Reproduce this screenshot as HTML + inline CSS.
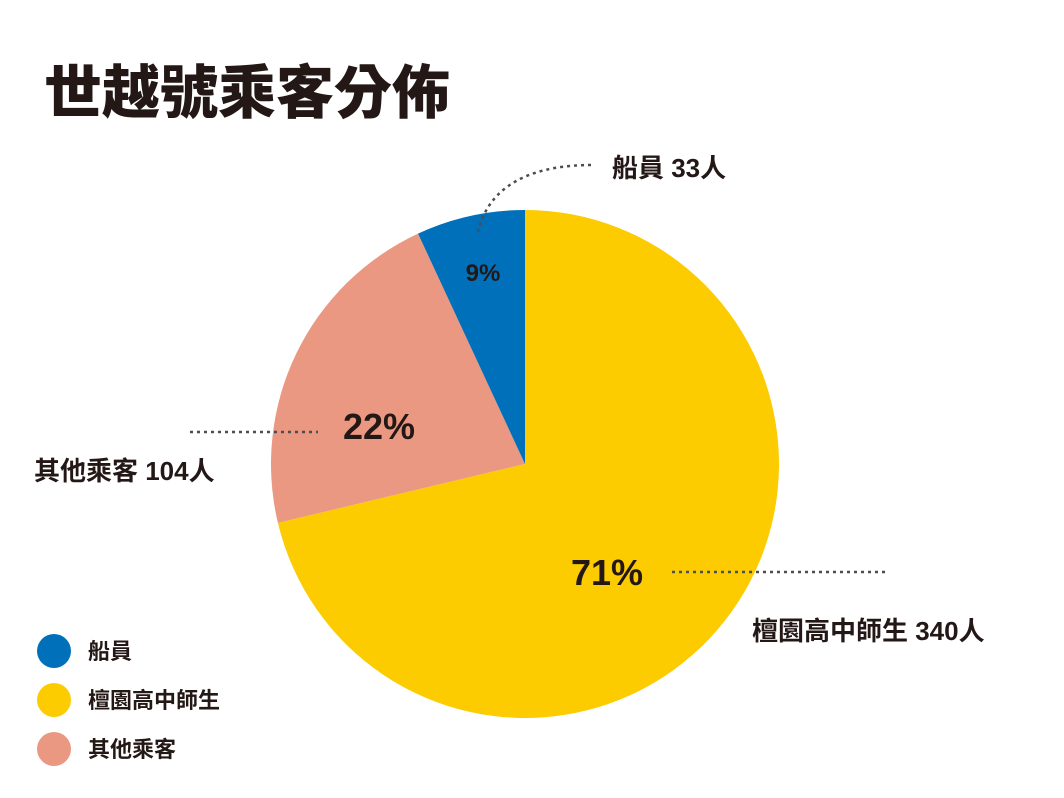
<!DOCTYPE html>
<html><head><meta charset="utf-8"><style>
body{margin:0;background:#fff;}
svg{display:block;font-family:"Liberation Sans","Noto Sans CJK TC",sans-serif;}
</style></head><body>
<svg id="chart" width="1064" height="798" viewBox="0 0 1064 798">
<text x="44" y="113" font-size="58" font-weight="900" fill="#231815">世越號乘客分佈</text>
<g id="slices"></g>
<path d="M478,232 C490,180 540,165 592,165" fill="none" stroke="#4d4d4d" stroke-width="2.5" stroke-dasharray="3,4"/>
<line x1="190" y1="432" x2="318" y2="432" stroke="#4d4d4d" stroke-width="2.5" stroke-dasharray="3,4"/>
<line x1="672" y1="572" x2="886" y2="572" stroke="#4d4d4d" stroke-width="2.5" stroke-dasharray="3,4"/>
<text x="612" y="177" font-size="26" font-weight="bold" fill="#231815">船員 33人</text>
<text x="34" y="480" font-size="26" font-weight="bold" fill="#231815">其他乘客 104人</text>
<text x="752" y="640" font-size="26" font-weight="bold" fill="#231815">檀園高中師生 340人</text>
<text x="483" y="281" font-size="24" font-weight="bold" text-anchor="middle" fill="#231815">9%</text>
<text x="379" y="439" font-size="36" font-weight="bold" text-anchor="middle" fill="#231815">22%</text>
<text x="607" y="585" font-size="36" font-weight="bold" text-anchor="middle" fill="#231815">71%</text>
<g>
<circle cx="54" cy="651" r="17" fill="#0070BA"/>
<text x="88" y="659" font-size="22" font-weight="bold" fill="#231815">船員</text>
<circle cx="54" cy="700" r="17" fill="#FCCB00"/>
<text x="88" y="708" font-size="22" font-weight="bold" fill="#231815">檀園高中師生</text>
<circle cx="54" cy="749" r="17" fill="#EA9881"/>
<text x="88" y="757" font-size="22" font-weight="bold" fill="#231815">其他乘客</text>
</g>
</svg>
<script>
const categories = ["檀園高中師生", "其他乘客", "船員"];
const values = [340, 104, 33];
const colors = ["#FCCB00", "#EA9881", "#0070BA"];
const sliceNames = ["slice-students", "slice-other", "slice-crew"];
const cx = 525, cy = 464, r = 254;
const total = values.reduce((a, b) => a + b, 0);
const g = document.getElementById('slices');
let a0 = 0;
function pt(a){ return [cx + r*Math.sin(a), cy - r*Math.cos(a)]; }
values.forEach((v, i) => {
  const a1 = a0 + v/total*2*Math.PI;
  const p0 = pt(a0), p1 = pt(a1);
  const large = (a1 - a0) > Math.PI ? 1 : 0;
  const p = document.createElementNS('http://www.w3.org/2000/svg', 'path');
  p.setAttribute('d', `M${cx},${cy} L${p0[0]},${p0[1]} A${r},${r} 0 ${large} 1 ${p1[0]},${p1[1]} Z`);
  p.setAttribute('fill', colors[i]);
  
  
  g.appendChild(p);
  a0 = a1;
});
</script>
</body></html>
